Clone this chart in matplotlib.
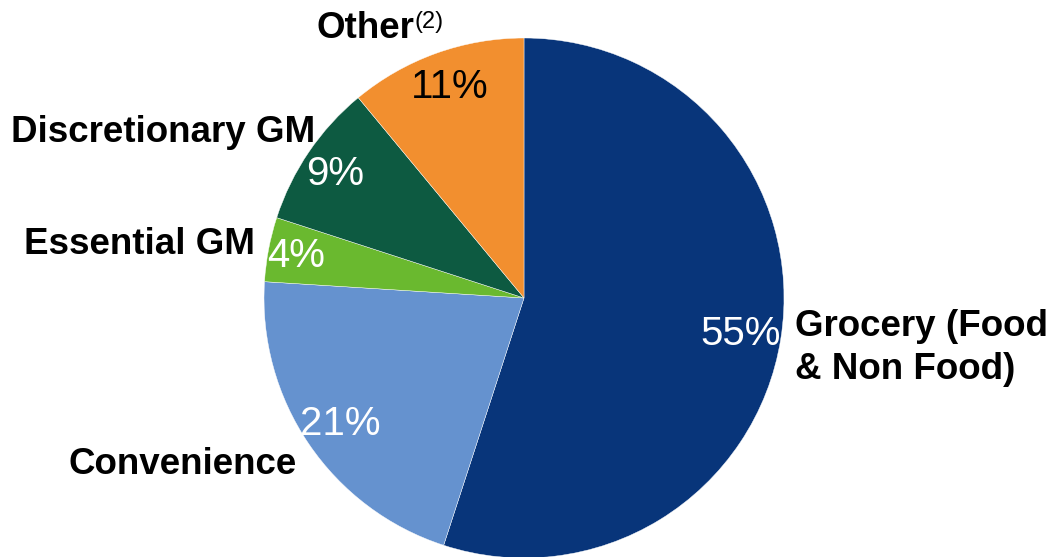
import matplotlib
matplotlib.use("Agg")
import matplotlib.pyplot as plt

plt.rcParams['font.family'] = ['Liberation Sans', 'DejaVu Sans']

categories = ["Grocery (Food\n& Non Food)", "Convenience", "Essential GM", "Discretionary GM", "Other"]
values = [55, 21, 4, 9, 11]
colors = ["#08357A", "#6592CF", "#6AB92F", "#0D5A41", "#F28F2F"]
pct_colors = ["white", "white", "white", "white", "black"]

W, H = 1052, 557
fig = plt.figure(figsize=(W / 100, H / 100), dpi=100)
cx, cy, r = 524, 298, 260
ax = fig.add_axes([(cx - r) / W, (H - cy - r) / H, 2 * r / W, 2 * r / H])
ax.pie(values, colors=colors, startangle=90, counterclock=False, radius=1,
       wedgeprops=dict(edgecolor="white", linewidth=0.3))
ax.set_xlim(-1, 1)
ax.set_ylim(-1, 1)
ax.set_aspect("equal")
ax.axis("off")

def fx(x):
    return x / W

def fy(y):
    return 1 - y / H

# category labels (pixel anchors)
label_pos = [
    (795, 348, "left"),   # Grocery
    (297, 464, "right"),  # Convenience
    (255, 245, "right"),  # Essential GM
    (315, 133, "right"),  # Discretionary GM
    (414, 28, "right"),   # Other
]
for cat, (x, y, ha) in zip(categories, label_pos):
    fig.text(fx(x), fy(y), cat, ha=ha, va="center", fontsize=26.5,
             fontweight="bold", color="black", linespacing=1.32)
fig.text(fx(415), fy(22), "(2)", ha="left", va="center", fontsize=17, color="black")

# percentage labels
pct_pos = [(741, 334), (340, 424), (296, 256), (335, 174), (450, 87)]
for v, (x, y), c in zip(values, pct_pos, pct_colors):
    fig.text(fx(x), fy(y), f"{v}%", ha="center", va="center", fontsize=29, color=c)

fig.savefig("out.png", dpi=100)
